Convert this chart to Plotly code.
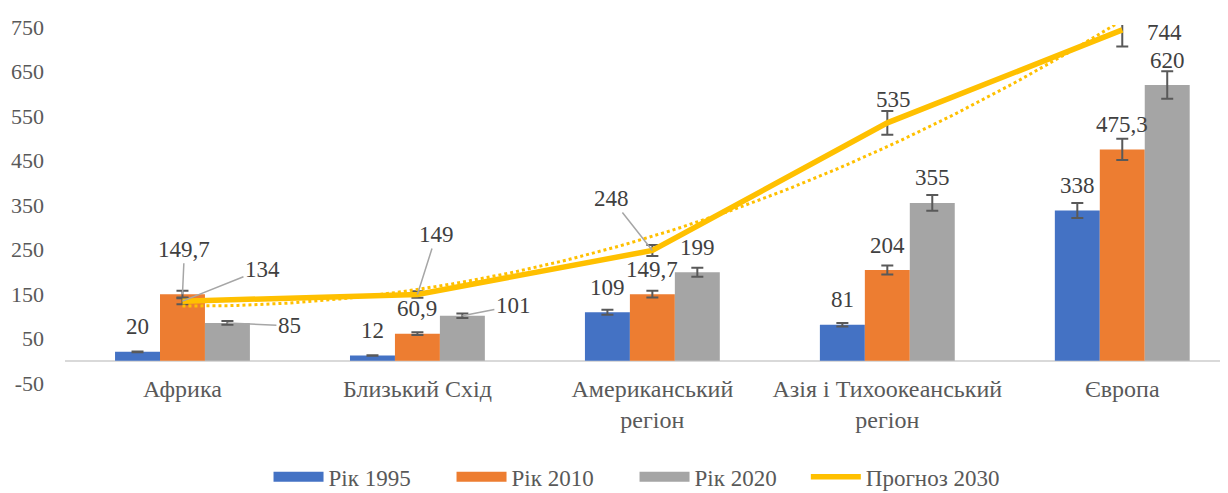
import numpy as np
import plotly.graph_objects as go

categories = ["Африка", "Близький Схід", "Американський<br>регіон",
              "Азія і Тихоокеанський<br>регіон", "Європа"]
years_1995 = [20, 12, 109, 81, 338]
years_2010 = [149.7, 60.9, 149.7, 204, 475.3]
years_2020 = [85, 101, 199, 355, 620]
forecast_2030 = [134, 149, 248, 535, 744]
series_names = ["Рік 1995", "Рік 2010", "Рік 2020", "Прогноз 2030"]
y_ticks = [-50, 50, 150, 250, 350, 450, 550, 650, 750]

colors = ["#4472C4", "#ED7D31", "#A5A5A5", "#FFC000"]
FONT = "Times New Roman, Liberation Serif, serif"
LABEL_COLOR = "#404040"
AXIS_COLOR = "#595959"
bargap = 0.426
idx = list(range(len(categories)))
bar_series = [years_1995, years_2010, years_2020]

fig = go.Figure()
err = dict(type="percent", value=5, color=AXIS_COLOR, thickness=2, width=6)
for k, vals in enumerate(bar_series):
    fig.add_trace(go.Bar(x=idx, y=vals, name=series_names[k], marker_color=colors[k],
                         marker_line_width=0, error_y=err, showlegend=False))

# legend swatches for the bar series (wide rectangles as in the reference)
for k in range(3):
    fig.add_trace(go.Scatter(x=[None], y=[None], mode="lines", name=series_names[k],
                             line=dict(color=colors[k], width=11), legend="legend"))

fig.add_trace(go.Scatter(x=idx, y=forecast_2030, mode="lines", name=series_names[3],
                         line=dict(color=colors[3], width=5.5), error_y=err,
                         legend="legend2"))

# polynomial (order 2) trendline of the forecast series
coef = np.polyfit(idx, forecast_2030, 2)
tx = np.linspace(0, len(categories) - 1, 120)
fig.add_trace(go.Scatter(x=tx, y=np.polyval(coef, tx), mode="lines", showlegend=False,
                         hoverinfo="skip", line=dict(color=colors[3], width=3, dash="dot")))


def fmt(v):
    return str(int(v)) if float(v).is_integer() else str(v).replace(".", ",")


gw = 1 - bargap
bar_off = [-gw / 3, 0, gw / 3]
annotations = []
lf = dict(family=FONT, size=23, color=LABEL_COLOR)
# plain labels above bars
for k, vals in enumerate(bar_series):
    for i, v in enumerate(vals):
        leader = (k == 1 and i == 0) or (k == 2 and i in (0, 1))
        if leader:
            continue
        annotations.append(dict(x=i + bar_off[k], y=v, text=fmt(v), showarrow=False,
                                yanchor="middle", yshift=25, font=lf))
# labels with leader lines: (series, index, ax, ay)
leaders = [(1, 0, 2, -45), (2, 0, 62, 3), (2, 1, 51, -10)]
for k, i, ax, ay in leaders:
    v = bar_series[k][i]
    annotations.append(dict(x=i + bar_off[k], y=v, text=fmt(v), showarrow=True,
                            arrowhead=0, arrowwidth=1.5, arrowcolor="#A6A6A6",
                            ax=ax, ay=ay, font=lf))
line_off = [(80, -32, True), (19, -60, True), (-41, -52, True), (6, -23, False), (42, 3, False)]
for i, v in enumerate(forecast_2030):
    ax, ay, arrow = line_off[i]
    if arrow:
        annotations.append(dict(x=i, y=v, text=fmt(v), showarrow=True, arrowhead=0,
                                arrowwidth=1.5, arrowcolor="#A6A6A6", ax=ax, ay=ay, font=lf))
    else:
        annotations.append(dict(x=i, y=v, text=fmt(v), showarrow=False,
                                xshift=ax, yshift=-ay, font=lf))

legend_font = dict(family=FONT, size=23, color=AXIS_COLOR)
# page body adds an 8px margin, so the figure is 8px smaller than the window
fig.update_layout(
    width=1220, height=485,
    margin=dict(l=57, r=0, t=17, b=110, autoexpand=False),
    plot_bgcolor="white", paper_bgcolor="white",
    barmode="group", bargap=bargap, bargroupgap=0,
    font=dict(family=FONT, size=23, color=AXIS_COLOR),
    annotations=annotations,
    legend=dict(orientation="h", x=0.175, xanchor="left", y=-0.262, yanchor="middle",
                font=legend_font, itemwidth=50, entrywidth=118, traceorder="normal"),
    legend2=dict(orientation="h", x=0.637, xanchor="left", y=-0.262, yanchor="middle",
                 font=legend_font, itemwidth=50),
    xaxis=dict(range=[-0.5, 4.45], tickvals=idx, ticktext=categories, showgrid=False,
               zeroline=False, showline=False, ticks="", automargin=False,
               ticklabelstandoff=-11,
               tickfont=dict(family=FONT, size=24, color=AXIS_COLOR)),
    yaxis=dict(range=[-50, 755], tickvals=y_ticks, ticktext=[str(t) for t in y_ticks],
               showgrid=False, zeroline=True, zerolinecolor="#D9D9D9", zerolinewidth=2,
               showline=False, ticks="", ticklabelstandoff=20, automargin=False,
               tickfont=dict(family=FONT, size=22, color=AXIS_COLOR)),
)

fig.write_html("out.html")
